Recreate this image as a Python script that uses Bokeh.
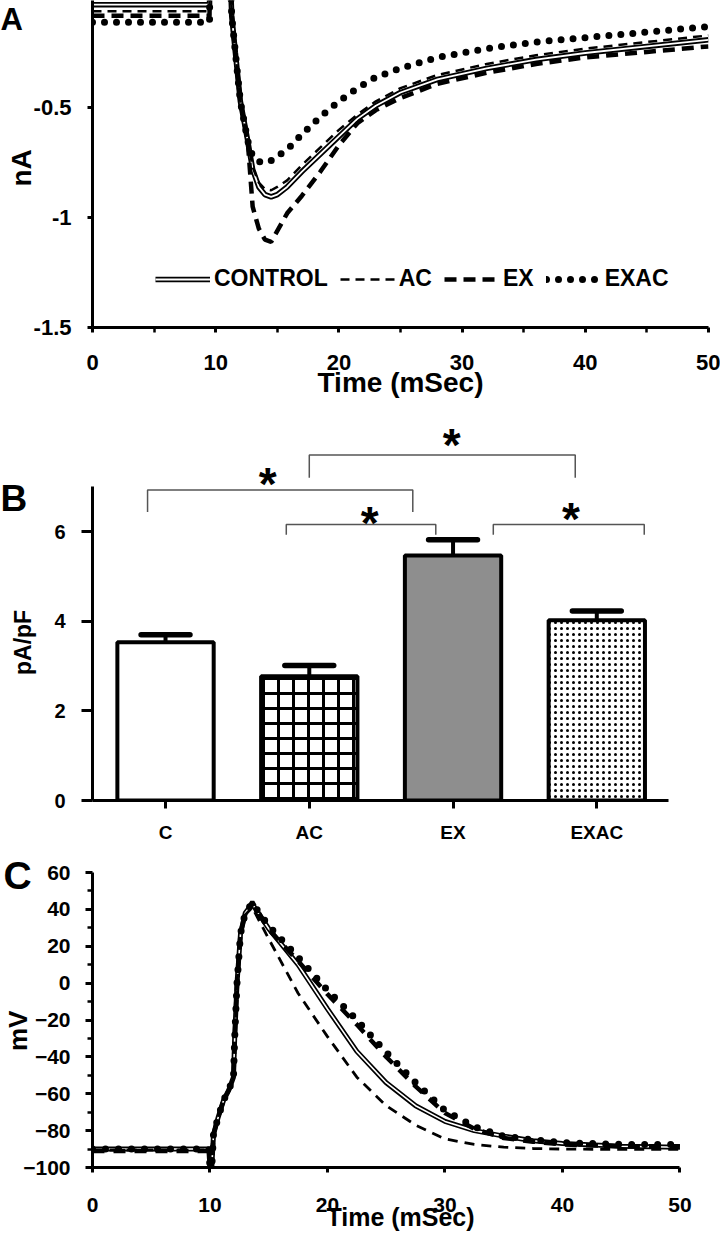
from bokeh.plotting import figure
from bokeh.layouts import column
from bokeh.models import FixedTicker, NumeralTickFormatter, Legend, LegendItem, Range1d, Title
from bokeh.embed import file_html
from bokeh.resources import INLINE
from bokeh.core.properties import value

FONT = "Liberation Sans"
NB = "\u00a0"

# ---------------- Panel A data (current, nA) ----------------
t_a = [0, 9.5, 9.55, 11.0, 11.3, 11.6, 12.0, 12.6, 13.0, 13.5, 14.0, 14.5, 15.0, 15.8,
       17.0, 18.5, 20.0, 21.5, 23.0, 25.0, 28.0, 32.0, 36.0, 40.0, 45.0, 50.0]
control_a = [-0.03, -0.03, 0.4, 0.4, -0.08, -0.25, -0.47, -0.65, -0.78, -0.86, -0.895, -0.905, -0.895, -0.86,
             -0.79, -0.71, -0.63, -0.55, -0.49, -0.43, -0.37, -0.32, -0.28, -0.25, -0.22, -0.19]
ac_a = [-0.06, -0.06, 0.4, 0.4, -0.08, -0.25, -0.47, -0.65, -0.77, -0.84, -0.87, -0.875, -0.86, -0.83,
        -0.76, -0.68, -0.60, -0.53, -0.47, -0.41, -0.35, -0.30, -0.26, -0.23, -0.20, -0.17]
ex_a = [-0.08, -0.08, 0.4, 0.4, -0.08, -0.25, -0.47, -0.65, -0.95, -1.05, -1.10, -1.11, -1.06, -0.98,
        -0.90, -0.79, -0.67, -0.57, -0.51, -0.455, -0.39, -0.34, -0.30, -0.27, -0.245, -0.22]
exac_a = [-0.11, -0.11, 0.4, 0.4, -0.08, -0.25, -0.47, -0.65, -0.72, -0.745, -0.75, -0.74, -0.72, -0.69,
          -0.62, -0.54, -0.47, -0.41, -0.36, -0.32, -0.27, -0.23, -0.20, -0.18, -0.155, -0.13]
a_xticks = [0, 10, 20, 30, 40, 50]
a_xminor = [5, 15, 25, 35, 45]
a_yticks = [-1.5, -1.0, -0.5]

# ---------------- Panel B data (pA/pF) ----------------
groups = ["C", "AC", "EX", "EXAC"]
means = [3.53, 2.77, 5.47, 4.02]
sems = [0.17, 0.24, 0.35, 0.21]
b_yticks = [0, 2, 4, 6]
brk_left = [0.875, 2.0, 1.84, 3.28]
brk_right = [2.72, 3.85, 2.88, 4.33]
brk_top = [6.93, 7.71, 6.16, 6.16]
brk_foot = [6.44, 7.20, 5.93, 5.93]
star_x = [1.71, 2.99, 2.42, 3.82]
star_y = [7.21, 8.10, 6.36, 6.43]

# ---------------- Panel C data (action potential, mV) ----------------
t_c = [0, 9.9, 10.0, 10.15, 10.3, 10.7, 11.15, 11.6, 12.0, 12.1, 12.3, 12.6, 13.0, 13.6,
       15.0, 17.5, 20.0, 22.5, 25.0, 27.5, 30.0, 32.5, 35.0, 37.5, 40.0, 45.0, 50.0]
control_c = [-90, -90, -100, -100, -82, -72.7, -63.6, -58, -51, -30, 0, 27, 38, 43,
             29.5, 10, -14, -37, -54, -66.5, -75, -80, -83, -85.5, -87, -88.5, -89]
ac_c = [-90.5, -90.5, -100, -100, -82, -72.7, -63.6, -58, -51, -30, 0, 27, 37, 41,
        24, -5.5, -29, -51, -66.5, -77, -84.5, -87.5, -89, -89.7, -90, -90.2, -90.2]
ex_c = [-91, -91, -100, -100, -82, -72.7, -63.6, -58, -51, -30, 0, 27, 38, 44,
        29, 12, -6, -22.5, -40, -56, -70.5, -79, -84, -86, -87.5, -88.5, -88.5]
exac_c = [-90, -90, -100, -100, -82, -72.7, -63.6, -58, -51, -30, 0, 27, 38, 43.5,
          31, 14, -3.8, -20, -37.5, -54, -69, -78, -83, -85, -86.5, -87.5, -87.5]
c_xticks = [0, 10, 20, 30, 40, 50]
c_yticks = [-100, -80, -60, -40, -20, 0, 20, 40, 60]
c_yminor = [-90, -70, -50, -30, -10, 10, 30, 50]


def style_axis(ax, label_size, tick_out, standoff, minor_out=0):
    ax.axis_line_width = 3
    ax.axis_line_color = "black"
    ax.major_tick_line_width = 3
    ax.major_tick_line_color = "black"
    ax.major_tick_in = 0
    ax.major_tick_out = tick_out
    ax.minor_tick_line_width = 2.5
    ax.minor_tick_line_color = "black"
    ax.minor_tick_in = 0
    ax.minor_tick_out = minor_out
    ax.major_label_text_font = FONT
    ax.major_label_text_font_style = "bold"
    ax.major_label_text_font_size = f"{label_size}px"
    ax.major_label_text_color = "black"
    ax.major_label_standoff = standoff
    ax.axis_label_text_font = FONT
    ax.axis_label_text_font_style = "bold"
    ax.axis_label_text_color = "black"


def base_fig(h, xr, yr, top, bottom):
    p = figure(width=720, height=h, x_range=xr, y_range=yr, output_backend="svg",
               toolbar_location=None, min_border_left=92, min_border_right=12,
               min_border_top=top, min_border_bottom=bottom)
    p.outline_line_color = None
    p.grid.visible = False
    return p


def panel_letter(p, txt, offset, standoff, size):
    p.add_layout(Title(text=txt, align="left", vertical_align="bottom", offset=offset,
                       standoff=standoff, text_font=FONT, text_font_style="bold",
                       text_font_size=f"{size}px", text_color="black"), "above")


# ================= Panel A =================
pa = base_fig(415, Range1d(0, 50), Range1d(-1.5, -0.011), 0, 88)
style_axis(pa.xaxis[0], 22, 5, 22, minor_out=5)
style_axis(pa.yaxis[0], 22, 5, 16)
pa.xaxis.ticker = FixedTicker(ticks=a_xticks, minor_ticks=a_xminor)
pa.yaxis.ticker = FixedTicker(ticks=a_yticks, minor_ticks=[])
pa.yaxis.formatter = NumeralTickFormatter(format="0.[0]")
pa.xaxis.axis_label = "Time (mSec)"
pa.xaxis.axis_label_text_font_size = "28px"
pa.xaxis.axis_label_standoff = -6
pa.yaxis.axis_label = "nA" + NB
pa.yaxis.axis_label_text_font_size = "28px"
pa.yaxis.axis_label_standoff = -6

ra_c1 = pa.line(t_a, control_a, line_color="black", line_width=5.5)
ra_c2 = pa.line(t_a, control_a, line_color="white", line_width=1.8)
ra_ac = pa.line(t_a, ac_a, line_color="black", line_width=2.5, line_dash="9 6")
ra_ex = pa.line(t_a, ex_a, line_color="black", line_width=4.5, line_dash="12 7")
ra_exac = pa.line(t_a, exac_a, line_color="black", line_width=7, line_dash="0 12",
                  line_cap="round")

leg = Legend(items=[LegendItem(label="CONTROL", renderers=[ra_c1, ra_c2]),
                    LegendItem(label="AC", renderers=[ra_ac]),
                    LegendItem(label="EX", renderers=[ra_ex]),
                    LegendItem(label="EXAC", renderers=[ra_exac])],
             orientation="horizontal", location=(63, 35))
leg.label_text_font = FONT
leg.label_text_font_style = "bold"
leg.label_text_font_size = "23px"
leg.label_text_color = "black"
leg.glyph_width = 55
leg.glyph_height = 20
leg.label_standoff = 4
leg.spacing = 12
leg.padding = 0
leg.margin = 0
leg.border_line_color = None
leg.background_fill_alpha = 0
pa.add_layout(leg)
panel_letter(pa, "A", -92, -72, 31)

# ================= Panel B =================
pb = base_fig(435, Range1d(0.492, 4.777), Range1d(0, 8.48), 5, 50)
style_axis(pb.xaxis[0], 19, 8, 13)
style_axis(pb.yaxis[0], 20, 11, 16)
pb.yaxis.bounds = (0, 7)
pb.xaxis.bounds = (0.492, 4.5)
pb.yaxis.ticker = FixedTicker(ticks=b_yticks, minor_ticks=[])
pb.xaxis.ticker = FixedTicker(ticks=[1, 2, 3, 4], minor_ticks=[])
pb.xaxis.major_label_overrides = {i + 1: g for i, g in enumerate(groups)}
pb.yaxis.axis_label = "pA/pF" + NB * 10
pb.yaxis.axis_label_text_font_size = "23px"
pb.yaxis.axis_label_standoff = 15

fills = ["white", "white", "#8e8e8e", "white"]
hatches = [None, "cross", None, "dot"]
hscale = [12, 15, 12, 6]
hweight = [1, 3, 1, 1.6]
for i in range(len(groups)):
    pb.vbar(x=[i + 1], top=[means[i]], width=0.67, fill_color=fills[i],
            line_color="black", line_width=4, hatch_pattern=hatches[i],
            hatch_color="black", hatch_scale=hscale[i], hatch_weight=hweight[i])
xs_b = [i + 1 for i in range(len(groups))]
upper = [m + s for m, s in zip(means, sems)]
pb.segment(x0=xs_b, y0=means, x1=xs_b, y1=upper, line_color="black", line_width=4)
pb.segment(x0=[x - 0.17 for x in xs_b], y0=upper, x1=[x + 0.17 for x in xs_b], y1=upper,
           line_color="black", line_width=5.5, line_cap="round")
pb.multi_line(xs=[[l, l, r, r] for l, r in zip(brk_left, brk_right)],
              ys=[[f, t, t, f] for t, f in zip(brk_top, brk_foot)],
              line_color="#555555", line_width=1.5)
pb.text(x=star_x, y=star_y, text=["*"] * len(star_x), text_font=value(FONT),
        text_font_style="bold", text_font_size="46px", text_align="center",
        text_baseline="alphabetic", y_offset=7, text_color="black")
panel_letter(pb, "B", -92, -196, 37)

# ================= Panel C =================
pc = base_fig(385, Range1d(0, 52.43), Range1d(-100, 60), 22, 68)
style_axis(pc.xaxis[0], 21, 5, 25)
style_axis(pc.yaxis[0], 21, 7, 15, minor_out=5)
pc.xaxis.bounds = (0, 50)
pc.xaxis.ticker = FixedTicker(ticks=c_xticks, minor_ticks=[])
pc.yaxis.ticker = FixedTicker(ticks=c_yticks, minor_ticks=c_yminor)
pc.xaxis.axis_label = "Time (mSec)"
pc.xaxis.axis_label_text_font_size = "25px"
pc.xaxis.axis_label_standoff = -12
pc.xaxis.axis_label_text_line_height = 1.0
pc.yaxis.axis_label = "mV" + NB * 3
pc.yaxis.axis_label_text_font_size = "26px"
pc.yaxis.axis_label_standoff = -13

pc.line(t_c, control_c, line_color="black", line_width=5)
pc.line(t_c, control_c, line_color="white", line_width=1.6)
pc.line(t_c, ac_c, line_color="black", line_width=2.8, line_dash="10 7")
pc.line(t_c, ex_c, line_color="black", line_width=4.5, line_dash="12 9")
pc.line(t_c, exac_c, line_color="black", line_width=7, line_dash="0 13", line_cap="round")
panel_letter(pc, "C", -89, -49, 39)

layout = column(pa, pb, pc, spacing=0)
open("out.html", "w").write(file_html(layout, INLINE))
